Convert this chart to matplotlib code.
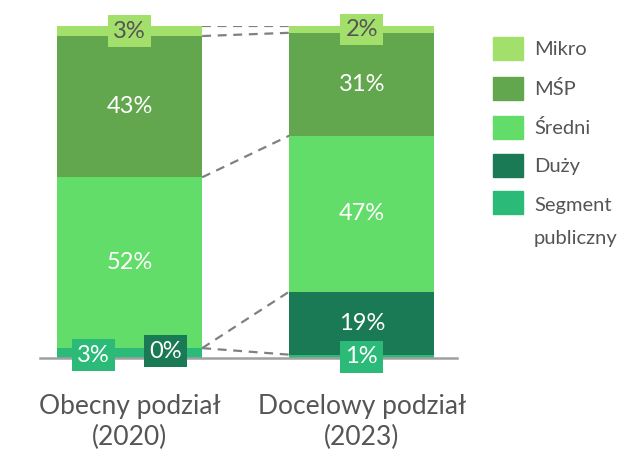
import numpy as np
import matplotlib.pyplot as plt
from matplotlib.patches import Rectangle

plt.rcParams['font.family'] = ['Lato', 'DejaVu Sans']

# dane
kategorie = ["Obecny podział\n(2020)", "Docelowy podział\n(2023)"]
segmenty = ["Segment\npubliczny", "Duży", "Średni", "MŚP", "Mikro"]
publiczny = [3, 1]
duzy = [0, 19]
sredni = [52, 47]
msp = [43, 31]
mikro = [3, 2]

kolory = ["#2bba77", "#1a7a55", "#62dd6a", "#62a64d", "#a3e06b"]
serie = [publiczny, duzy, sredni, msp, mikro]

fig = plt.figure(figsize=(6.28, 4.49), dpi=100)
ax = fig.add_axes([0.0637, 0.2027, 0.664, 0.739])

x = np.arange(len(kategorie))
w = 0.625
dane = np.array(serie, dtype=float)
suma = dane.sum(axis=0)
udzial = dane / suma * 100  # slupki znormalizowane do 100%

dol = np.zeros(len(kategorie))
granice = []
for s, kol in zip(udzial, kolory):
    ax.bar(x, s, w, bottom=dol, color=kol, edgecolor='none')
    dol = dol + s
    granice.append(dol.copy())

# linie przerywane laczace granice segmentow
for g in granice:
    ax.plot([x[0] + w / 2, x[1] - w / 2], [g[0], g[1]], color='#808080',
            lw=1.6, ls=(0, (4, 3)), zorder=1)

# etykiety
szary = '#555555'
fs = 17
for i in range(len(kategorie)):
    start = 0.0
    for j in range(len(serie)):
        v = serie[j][i]
        h = udzial[j][i]
        srodek = start + h / 2
        start += h
        txt = f"{v}%"
        if v >= 10:
            ax.text(x[i], srodek, txt, ha='center', va='center', color='white',
                    fontsize=fs)
        elif j == 4:
            ax.text(x[i], srodek, txt, ha='center', va='center', color=szary,
                    fontsize=fs, zorder=5,
                    bbox=dict(boxstyle='square,pad=0.22', fc=kolory[j], ec='none'))
        else:
            if i == 0:
                dx, yy = (-0.157, 0.9) if j == 0 else (0.153, 2.1)
            else:
                dx, yy = 0.0, 0.3
            ax.text(x[i] + dx, yy, txt, ha='center', va='center', color='white',
                    fontsize=fs, zorder=5,
                    bbox=dict(boxstyle='square,pad=0.22', fc=kolory[j], ec='none'))

ax.set_xlim(-0.386, 1.41)
ax.set_ylim(0, 100)
ax.set_yticks([])
ax.set_xticks(x)
ax.set_xticklabels(kategorie, fontsize=19, color=szary, linespacing=1.28)
ax.tick_params(axis='x', length=0, pad=26)
for sp in ['top', 'right', 'left']:
    ax.spines[sp].set_visible(False)
ax.spines['bottom'].set_color('#a0a0a0')
ax.spines['bottom'].set_linewidth(1.8)

# legenda
W, H = 628, 449
rzedy = [48, 88, 127, 165, 203]
odstep = 34  # odleglosc miedzy wierszami etykiety, px
for nazwa, kol, yc in zip(segmenty[::-1], kolory[::-1], rzedy):
    fig.patches.append(Rectangle((493 / W, 1 - (yc + 11.5) / H), 30 / W, 23 / H,
                                 transform=fig.transFigure, color=kol))
    n = nazwa.count('\n')
    fig.text(534 / W, 1 - (yc + 7 + n * odstep) / H, nazwa, ha='left',
             va='baseline', fontsize=14.5, color=szary, linespacing=2.14)

fig.savefig("out.png", dpi=100)
